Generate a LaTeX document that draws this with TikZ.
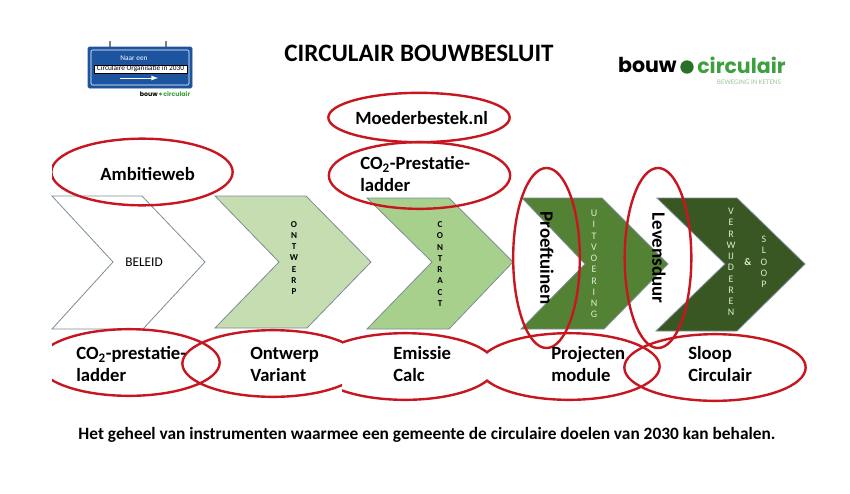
\documentclass[tikz,border=0pt]{standalone}
\usepackage{fontspec}
\setmainfont{Carlito}
\newfontfamily\logofont{Poppins}
\usetikzlibrary{shapes.geometric}
\usetikzlibrary{positioning}
\definecolor{ringred}{RGB}{200,22,32}
\definecolor{signblue}{RGB}{28,84,160}
\definecolor{logogreen}{RGB}{62,160,60}
\definecolor{paleletter}{RGB}{222,236,205}
\definecolor{edgegray}{RGB}{125,140,150}
\tikzset{
	chevron/.style={draw=edgegray, line width=0.6pt, line join=miter},
	ring/.style={draw=ringred, line width=1.8pt, ellipse, inner sep=0pt, minimum width=136pt, minimum height=50pt},
	tallring/.style={ring, minimum width=50pt, minimum height=135pt},
	label/.style={font=\fontsize{14}{16.5}\selectfont\bfseries, align=left, anchor=west, inner sep=0pt},
	letters/.style={font=\fontsize{7.5}{8.45}\selectfont, align=center, inner sep=0pt},
	boldletters/.style={letters, font=\fontsize{6.8}{8.45}\selectfont\bfseries},
	sideways/.style={font=\fontsize{14.2}{16}\selectfont\bfseries, rotate=-90, inner sep=0pt},
	logotext/.style={font=\logofont\fontsize{15.4}{16}\selectfont\bfseries, inner sep=0pt},
	logosmall/.style={font=\logofont\fontsize{4.7}{5}\selectfont\bfseries, inner sep=0pt}
}
\begin{document}
\begin{tikzpicture}[x=0.75pt, y=-0.75pt]
	\useasboundingbox (0,0) rectangle (850,493);
	%% Chevrons
	\draw [chevron, fill=white] (52,196) -- (142,196) -- (205,262) -- (143,329) -- (52,329) -- (113,262) -- cycle;
	\draw [chevron, fill={rgb,255:red,197;green,221;blue,177}] (215,196) -- (306,196) -- (371,262) -- (307,328) -- (215,328) -- (279,262) -- cycle;
	\draw [chevron, fill={rgb,255:red,168;green,208;blue,141}] (367,198) -- (449,198) -- (513,262) -- (449,329) -- (367,329) -- (432,262) -- cycle;
	\draw [chevron, fill={rgb,255:red,84;green,130;blue,53}] (522,198) -- (602,198) -- (668,264) -- (604,329) -- (521,329) -- (585,264) -- cycle;
	\draw [chevron, fill={rgb,255:red,56;green,87;blue,35}] (657,198) -- (737,198) -- (805,264) -- (737,331) -- (656,331) -- (725,264) -- cycle;
	\node [font=\fontsize{10}{12}\selectfont] (beleid) at (144,262) {BELEID};
	\node [boldletters] (ontwerp) at (294,258) {O\\N\\T\\W\\E\\R\\P};
	\node [boldletters] (contract) at (440,264) {C\\O\\N\\T\\R\\A\\C\\T};
	\node [letters, text=paleletter] (uitvoering) at (594,264) {U\\I\\T\\V\\O\\E\\R\\I\\N\\G};
	\node [letters, text=paleletter] (verwijderen) at (731,262) {V\\E\\R\\W\\IJ\\D\\E\\R\\E\\N};
	\node [letters, text=paleletter, font=\fontsize{7.5}{9}\selectfont\bfseries] (en) at (748,262) {\&};
	\node [letters, text=paleletter] (sloop) at (764,262) {S\\L\\O\\O\\P};
	%% Rings
	\begin{scope}
		\clip (52,100) rectangle (342,420);
		\node [ring] (ringambitie) at (142,172) {};
		\node [ring] (ringco) at (129,362.5) {};
		\node [ring] (ringontwerp) at (273,363.5) {};
	\end{scope}
	\begin{scope}
		\clip (342,300) rectangle (487,420);
		\node [ring] (ringemissie) at (405,366.5) {};
	\end{scope}
	\begin{scope}
		\clip (487,300) rectangle (850,420);
		\node [ring] (ringprojecten) at (569,366.5) {};
	\end{scope}
	\node [ring] (ringsloop) at (715,367.5) {};
	\node [ring, minimum height=37pt] (ringmoeder) at (419,117.5) {};
	\node [ring] (ringprestatie) at (419.5,175.5) {};
	\node [tallring] (ringproef) at (546.5,258) {};
	\node [tallring] (ringleven) at (658,258) {};
	%% Labels
	\node [label] (ambitie) at (100,174) {Ambitieweb};
	\node [label] (moeder) at (355,118) {Moederbestek.nl};
	\node [label] (prestatie) at (360,174) {CO\textsubscript{2}-Prestatie-\\ladder};
	\node [label] (co) at (76,364) {CO\textsubscript{2}-prestatie-\\ladder};
	\node [label] (variant) at (250,364) {Ontwerp\\Variant};
	\node [label] (emissie) at (393,364) {Emissie\\Calc};
	\node [label] (projecten) at (551,364) {Projecten\\module};
	\node [label] (circulair) at (688,364) {Sloop\\Circulair};
	\node [sideways] (proeftuinen) at (547,258) {Proeftuinen};
	\node [sideways] (levensduur) at (659,258) {Levensduur};
	\node [font=\fontsize{18.8}{20}\selectfont\bfseries] (title) at (419,53) {CIRCULAIR BOUWBESLUIT};
	\node [font=\fontsize{13}{15}\selectfont\bfseries] (footer) at (427,435) {Het geheel van instrumenten waarmee een gemeente de circulaire doelen van 2030 kan behalen.};
	%% Sign logo
	\draw [gray, line width=1.2pt] (110,41) -- (110,47) (166,41) -- (166,47);
	\draw [fill=signblue, draw=signblue, rounded corners=1pt] (88,47) rectangle (192,88);
	\draw [white, line width=0.4pt, rounded corners=1pt] (91,50) rectangle (189,85);
	\node [font=\fontsize{5.5}{6}\selectfont, text=white] (naar) at (134,58) {Naar een};
	\node [draw=black, line width=0.2pt, fill=white, minimum width=70pt, minimum height=6.5pt, inner sep=0pt, font=\fontsize{5.5}{6}\selectfont] (organisatie) at (140.5,69) {Circulaire Organisatie in 2030};
	\draw [white, line width=0.7pt, -latex] (120,78) -- (158,78);
	\node [logosmall, anchor=east] (bouwklein) at (158,94) {bouw};
	\node [circle, fill=logogreen, inner sep=0.8pt] (bolklein) at (160.5,94) {};
	\node [logosmall, text=logogreen, anchor=west] (circulairklein) at (163,94) {circulair};
	%% Logo top right
	\node [logotext, anchor=east] (bouw) at (677,65) {bouw};
	\node [circle, fill=logogreen!70!black, minimum size=10pt, inner sep=0pt] (bol) at (687,67) {};
	\node [logotext, text=logogreen, anchor=west] (circulairgroot) at (697,65) {circulair};
	\node [font=\fontsize{5.3}{5.5}\selectfont, text=green!30!gray!60, inner sep=0pt] (ketens) at (749,82) {BEWEGING IN KETENS};
\end{tikzpicture}
\end{document}
